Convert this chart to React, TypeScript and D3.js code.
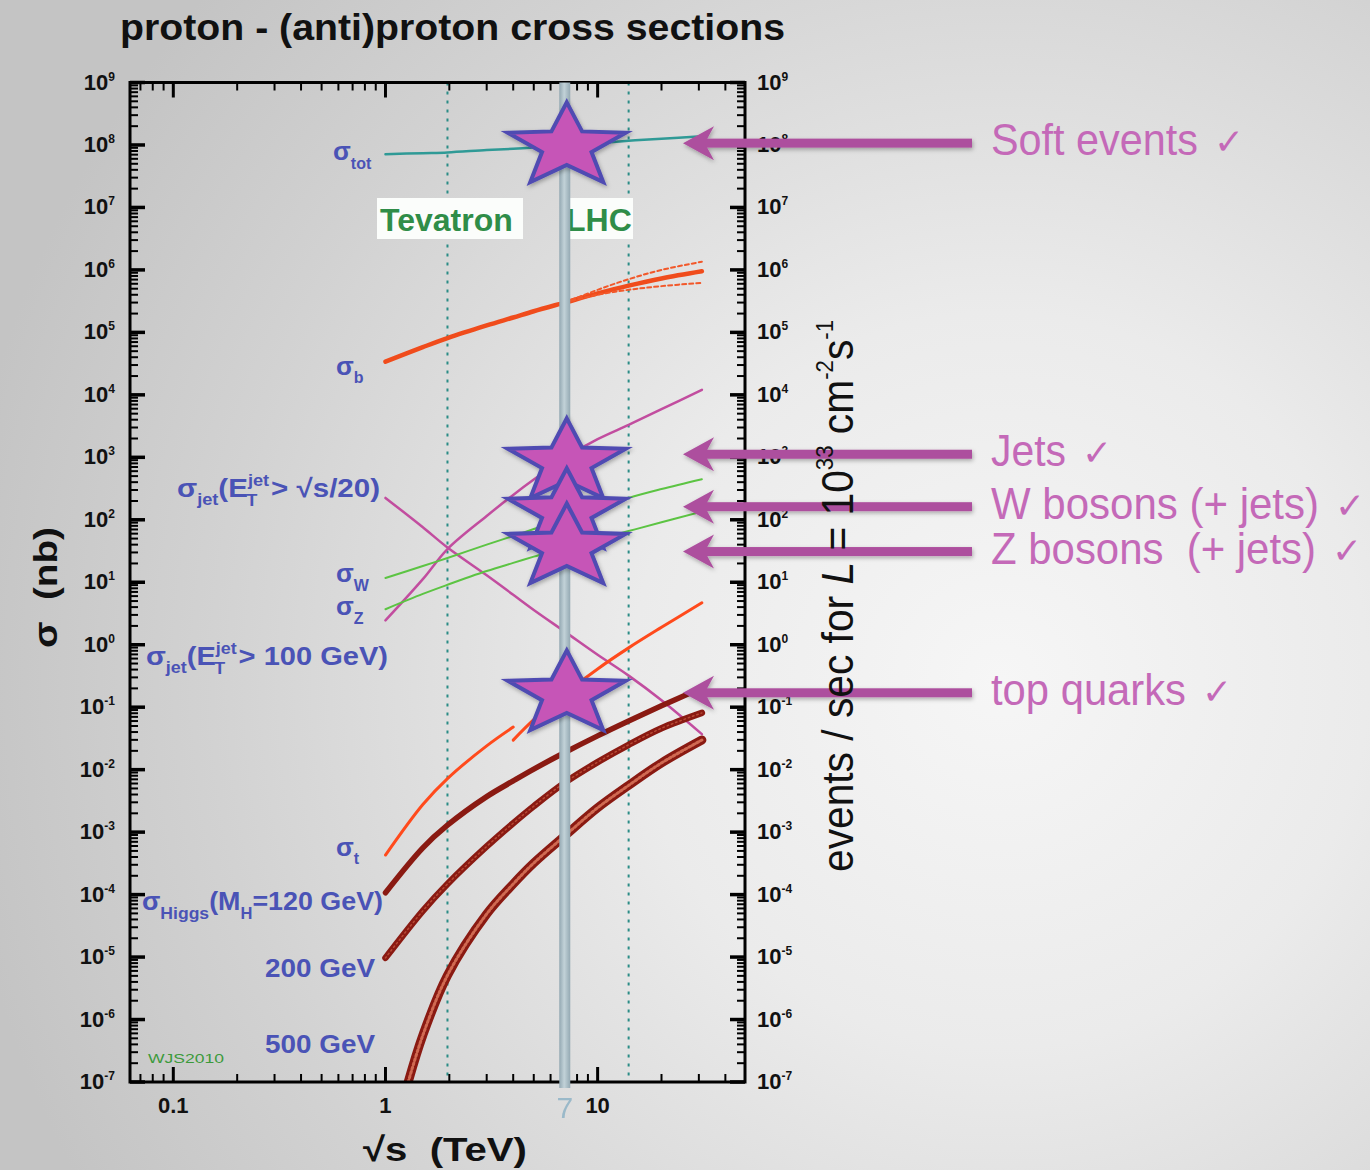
import React from 'react';
import * as d3 from 'd3';

// Centre-of-mass energies (TeV) shared by most curves
const energies = [1, 1.5, 1.96, 3, 4, 5, 7, 10, 14, 20, 31];

// Cross sections in nb
const sigmaTot = [7.1e7, 7.4e7, 7.6e7, 8.3e7, 8.7e7, 9.1e7, 9.8e7, 1.07e8, 1.17e8, 1.26e8, 1.38e8];
const sigmaB = [3.4e4, 5.8e4, 8.1e4, 1.29e5, 1.73e5, 2.18e5, 3.0e5, 4.2e5, 5.6e5, 7.3e5, 9.5e5];
const bandEnergies = [7, 10, 14, 20, 31];
const sigmaBUpper = [3.0e5, 4.8e5, 7.1e5, 1.0e6, 1.35e6];
const sigmaBLower = [3.0e5, 4.0e5, 4.8e5, 5.5e5, 6.2e5];
const sigmaJetScaled = [224, 76, 36, 12.9, 6.3, 3.6, 1.62, 0.69, 0.32, 0.129, 0.037];
const sigmaJet100 = [2.45, 11.2, 34, 115, 250, 440, 980, 1950, 3300, 5900, 1.2e4];
const sigmaW = [11.7, 18.2, 24.5, 40, 55, 71, 102, 155, 224, 310, 447];
const sigmaZ = [3.7, 6.5, 9.1, 15.1, 20.4, 25.7, 36, 49, 66, 91, 135];
const topPbarEnergies = [1, 1.5, 1.96, 3, 4];
const sigmaTopPbar = [4.3e-4, 2.77e-3, 7.2e-3, 0.024, 0.048];
const topPPEnergies = [4, 5, 7, 10, 14, 20, 31];
const sigmaTopPP = [0.0297, 0.063, 0.165, 0.41, 0.89, 1.9, 4.7];
const sigmaHiggs120 = [1.07e-4, 5.6e-4, 1.29e-3, 3.7e-3, 6.6e-3, 0.0102, 0.0188, 0.0347, 0.06, 0.105, 0.204];
const sigmaHiggs200 = [9.7e-6, 5.5e-5, 1.48e-4, 5.9e-4, 1.39e-3, 2.6e-3, 6.2e-3, 0.0132, 0.025, 0.046, 0.081];
const higgs500Energies = [1.28, 1.5, 1.96, 3, 4, 5, 7, 10, 14, 20, 31];
const sigmaHiggs500 = [1.0e-7, 5.6e-7, 5.1e-6, 4.9e-5, 1.48e-4, 3.2e-4, 8.7e-4, 2.45e-3, 5.6e-3, 0.0128, 0.0298];

// Collider energies (TeV)
const tevatronEnergy = 1.96;
const lhcDesignEnergy = 14;
const lhcRunEnergy = 7;

// Measured processes at 7 TeV, marked with stars (nb)
const starSigma = [9.5e7, 830, 132, 36, 0.16];

// Call-outs on the right
const calloutLabels = ['Soft events', 'Jets', 'W bosons (+ jets)', 'Z bosons  (+ jets)', 'top quarks'];
const calloutSigma = [1.07e8, 1120, 162, 31, 0.17];
const calloutWidths = [207, 75, 328, 325, 195];

const yExponents = d3.range(-7, 10);
const xTickLabels = [0.1, 1, 10];

const FONT = "'Liberation Sans', Arial, Helvetica, sans-serif";
const BLUE = '#4a53b6';

function starPoints(cx: number, cy: number, rx: number, ry: number, inner: number) {
  const pts: string[] = [];
  for (let i = 0; i < 10; i++) {
    const a = -Math.PI / 2 + (i * Math.PI) / 5;
    const r = i % 2 === 0 ? 1 : inner;
    pts.push(`${cx + Math.cos(a) * r * rx},${cy + Math.sin(a) * r * ry}`);
  }
  return pts.join(' ');
}

export default function App() {
  const W = 1370;
  const H = 1170;
  const x = d3.scaleLog().domain([0.0625, 49.5]).range([130, 745]);
  const y = d3.scaleLog().domain([1e-7, 1e9]).range([1082, 82.5]);
  const [x0, x1] = x.range();
  const [y0, y1] = y.range();

  const path = (xs: number[], ys: number[]) =>
    d3
      .line<number>()
      .x((_, i) => x(xs[i]))
      .y((d) => y(d))
      .curve(d3.curveCatmullRom.alpha(0.5))(ys) || '';

  const xTicks = x.ticks();
  const isMajorX = (v: number) => Math.abs(Math.log10(v) - Math.round(Math.log10(v))) < 1e-9;
  const yMinor: number[] = [];
  yExponents.slice(0, -1).forEach((e) => {
    for (let k = 2; k <= 9; k++) yMinor.push(k * Math.pow(10, e));
  });

  const xs7 = x(lhcRunEnergy);

  return (
    <svg
      width={W}
      height={H}
      viewBox={`0 0 ${W} ${H}`}
      style={{ position: 'absolute', left: 0, top: 0, display: 'block' }}
      fontFamily={FONT}
    >
      <defs>
        <radialGradient id="bg" cx="1000" cy="680" r="1050" gradientUnits="userSpaceOnUse">
          <stop offset="0" stopColor="#f6f6f6" />
          <stop offset="0.35" stopColor="#ebebeb" />
          <stop offset="0.75" stopColor="#d2d2d2" />
          <stop offset="1" stopColor="#c4c4c4" />
        </radialGradient>
        <linearGradient id="band" x1="0" x2="1" y1="0" y2="0">
          <stop offset="0" stopColor="#93a8b2" />
          <stop offset="0.45" stopColor="#c2d2d8" />
          <stop offset="1" stopColor="#94a9b3" />
        </linearGradient>
        <clipPath id="plot">
          <rect x={x0} y={y1} width={x1 - x0} height={y0 - y1} />
        </clipPath>
        <filter id="shadow" x="-20%" y="-20%" width="140%" height="160%">
          <feDropShadow dx="1" dy="2" stdDeviation="2" floodColor="#000" floodOpacity="0.3" />
        </filter>
      </defs>

      <rect x={0} y={0} width={W} height={H} fill="url(#bg)" />

      {/* collider energies */}
      {[tevatronEnergy, lhcDesignEnergy].map((e) => (
        <line
          key={e}
          x1={x(e)}
          x2={x(e)}
          y1={y1}
          y2={y0}
          stroke="#2a8c86"
          strokeWidth={2}
          strokeDasharray="3,6"
        />
      ))}
      <rect x={377} y={198} width={146} height={41} fill="#fbfdfb" />
      <rect x={566} y={198} width={67} height={41} fill="#fbfdfb" />
      <text x={380} y={231} fontSize={32} fontWeight="bold" fill="#2f8d48">Tevatron</text>
      <text x={566} y={231} fontSize={32} fontWeight="bold" fill="#2f8d48">LHC</text>

      {/* cross-section curves */}
      <g clipPath="url(#plot)" fill="none" strokeLinecap="round">
        <path d={path(energies, sigmaTot)} stroke="#2f9a96" strokeWidth={2.5} />
        <path d={path(energies, sigmaB)} stroke="#f04c1c" strokeWidth={4.5} />
        <path d={path(bandEnergies, sigmaBUpper)} stroke="#f2582a" strokeWidth={2} strokeDasharray="4,3" />
        <path d={path(bandEnergies, sigmaBLower)} stroke="#f2582a" strokeWidth={2} strokeDasharray="4,3" />
        <path d={path(energies, sigmaJetScaled)} stroke="#c24d9f" strokeWidth={2.5} />
        <path d={path(energies, sigmaJet100)} stroke="#c24d9f" strokeWidth={2.5} />
        <path d={path(energies, sigmaW)} stroke="#5cc443" strokeWidth={2} />
        <path d={path(energies, sigmaZ)} stroke="#5cc443" strokeWidth={2} />
        <path d={path(topPbarEnergies, sigmaTopPbar)} stroke="#ff4a1c" strokeWidth={3} />
        <path d={path(topPPEnergies, sigmaTopPP)} stroke="#ff4a1c" strokeWidth={3} />
        <path d={path(energies, sigmaHiggs120)} stroke="#8a1a12" strokeWidth={5.5} />
        <path d={path(energies, sigmaHiggs200)} stroke="#8a1a12" strokeWidth={6.5} />
        <path d={path(energies, sigmaHiggs200)} stroke="#b84a36" strokeWidth={1.5} strokeDasharray="1.5,3" />
        <path d={path(higgs500Energies, sigmaHiggs500)} stroke="#8a1a12" strokeWidth={9} />
        <path d={path(higgs500Energies, sigmaHiggs500)} stroke="#d06a52" strokeWidth={3} strokeDasharray="2,2.5" />
      </g>

      {/* curve labels */}
      <g fill={BLUE} fontWeight="bold" fontSize={26}>
        <text x={333} y={160}>σ<tspan fontSize={16} dy={9}>tot</tspan></text>
        <text x={336} y={375}>σ<tspan fontSize={16} dy={8}>b</tspan></text>
        <text x={177} y={497} textLength={203} lengthAdjust="spacingAndGlyphs">
          σ<tspan fontSize={16} dy={8}>jet</tspan>
          <tspan dy={-8}>(E</tspan>
          <tspan fontSize={16} dy={-11}>jet</tspan>
          <tspan fontSize={16} dx={-20} dy={20}>T</tspan>
          <tspan dx={12} dy={-9}>&gt; √s/20)</tspan>
        </text>
        <text x={336} y={582}>σ<tspan fontSize={16} dy={9}>W</tspan></text>
        <text x={336} y={615}>σ<tspan fontSize={16} dy={9}>Z</tspan></text>
        <text x={146} y={665} textLength={242} lengthAdjust="spacingAndGlyphs">
          σ<tspan fontSize={16} dy={8}>jet</tspan>
          <tspan dy={-8}>(E</tspan>
          <tspan fontSize={16} dy={-11}>jet</tspan>
          <tspan fontSize={16} dx={-20} dy={20}>T</tspan>
          <tspan dx={12} dy={-9}>&gt; 100 GeV)</tspan>
        </text>
        <text x={336} y={856}>σ<tspan fontSize={16} dy={8}>t</tspan></text>
        <text x={142} y={910} textLength={241} lengthAdjust="spacingAndGlyphs">
          σ<tspan fontSize={17} dy={9}>Higgs</tspan>
          <tspan dy={-9}>(M</tspan>
          <tspan fontSize={16} dy={9}>H</tspan>
          <tspan dy={-9}>=120 GeV)</tspan>
        </text>
        <text x={265} y={977} textLength={110} lengthAdjust="spacingAndGlyphs">200 GeV</text>
        <text x={265} y={1053} textLength={110} lengthAdjust="spacingAndGlyphs">500 GeV</text>
      </g>
      <text x={148} y={1063} fontSize={13} fill="#3b9a3b" textLength={76} lengthAdjust="spacingAndGlyphs">WJS2010</text>

      {/* axes frame and ticks */}
      <g stroke="#000">
        <rect x={x0} y={y1} width={x1 - x0} height={y0 - y1} fill="none" strokeWidth={3} />
        {xTicks.map((v, i) => {
          const len = isMajorX(v) ? 15 : 8;
          const sw = isMajorX(v) ? 3 : 2;
          return (
            <g key={`xt${i}`} strokeWidth={sw}>
              <line x1={x(v)} x2={x(v)} y1={y1} y2={y1 + len} />
              <line x1={x(v)} x2={x(v)} y1={y0} y2={y0 - len} />
            </g>
          );
        })}
        {yExponents.map((e) => (
          <g key={`ym${e}`} strokeWidth={3.5}>
            <line x1={x0} x2={x0 + 15} y1={y(Math.pow(10, e))} y2={y(Math.pow(10, e))} />
            <line x1={x1} x2={x1 - 15} y1={y(Math.pow(10, e))} y2={y(Math.pow(10, e))} />
          </g>
        ))}
        {yMinor.map((v, i) => (
          <g key={`yn${i}`} strokeWidth={2}>
            <line x1={x0} x2={x0 + 8} y1={y(v)} y2={y(v)} />
            <line x1={x1} x2={x1 - 8} y1={y(v)} y2={y(v)} />
          </g>
        ))}
      </g>

      {/* tick labels */}
      <g fontWeight="bold" fontSize={22} fill="#111">
        {yExponents.map((e) => (
          <text key={`yl${e}`} x={115} y={y(Math.pow(10, e)) + 7} textAnchor="end">
            10<tspan fontSize={12} dy={-9}>{e}</tspan>
          </text>
        ))}
        {yExponents.map((e) => (
          <text key={`yr${e}`} x={757} y={y(Math.pow(10, e)) + 7}>
            10<tspan fontSize={12} dy={-9}>{e}</tspan>
          </text>
        ))}
        {xTickLabels.map((v) => (
          <text key={`xl${v}`} x={x(v)} y={1113} textAnchor="middle">{v}</text>
        ))}
      </g>

      {/* 7 TeV marker */}
      <rect x={xs7 - 5.5} y={y1} width={11} height={1088 - y1} fill="url(#band)" />
      <text x={xs7} y={1118} fontSize={30} textAnchor="middle" fill="#8fb3c6" opacity={0.85}>7</text>

      {/* stars at 7 TeV */}
      <g filter="url(#shadow)">
        {starSigma.map((s, i) => (
          <polygon
            key={`st${i}`}
            points={starPoints(xs7 + 2, y(s), 62, 44, 0.42)}
            fill="#c654b7"
            stroke="#4f4bb2"
            strokeWidth={4}
            strokeLinejoin="miter"
          />
        ))}
      </g>

      {/* call-out arrows */}
      <g fill="#ad4f9e" filter="url(#shadow)">
        {calloutSigma.map((s, i) => {
          const yc = y(s);
          return (
            <g key={`ar${i}`}>
              <rect x={704} y={yc - 4.5} width={268} height={9} />
              <polygon points={`683,${yc} 714,${yc - 17} 707,${yc - 4} 707,${yc + 4} 714,${yc + 17}`} />
            </g>
          );
        })}
      </g>
      <g fill="#c469b8" fontSize={45}>
        {calloutLabels.map((t, i) => {
          const yc = y(calloutSigma[i]) + 12;
          return (
            <g key={`cl${i}`}>
              <text
                x={991}
                y={yc}
                textLength={calloutWidths[i]}
                lengthAdjust="spacingAndGlyphs"
                style={{ whiteSpace: 'pre' }}
              >
                {t}
              </text>
              <text
                x={991 + calloutWidths[i] + 16}
                y={yc - 1}
                fontSize={36}
                fontFamily="'DejaVu Sans', sans-serif"
              >
                ✓
              </text>
            </g>
          );
        })}
      </g>

      {/* titles */}
      <text x={120} y={40} fontSize={37} fontWeight="bold" fill="#111" textLength={665} lengthAdjust="spacingAndGlyphs">
        proton - (anti)proton cross sections
      </text>
      <text x={363} y={1161} fontSize={34} fontWeight="bold" fill="#111" textLength={164} lengthAdjust="spacingAndGlyphs" style={{ whiteSpace: 'pre' }}>
        √s  (TeV)
      </text>
      <text
        transform="translate(57,648) rotate(-90)"
        fontSize={34}
        fontWeight="bold"
        fill="#111"
        textLength={121}
        lengthAdjust="spacingAndGlyphs"
        style={{ whiteSpace: 'pre' }}
      >
        σ  (nb)
      </text>
      <text transform="translate(853,872) rotate(-90)" fontSize={44} fill="#111" textLength={552} lengthAdjust="spacingAndGlyphs">
        events / sec for <tspan fontStyle="italic">L</tspan> = 10<tspan fontSize={24} dy={-20}>33</tspan>
        <tspan dy={20}> cm</tspan>
        <tspan fontSize={24} dy={-20}>-2</tspan>
        <tspan dy={20}>s</tspan>
        <tspan fontSize={24} dy={-20}>-1</tspan>
      </text>
    </svg>
  );
}
